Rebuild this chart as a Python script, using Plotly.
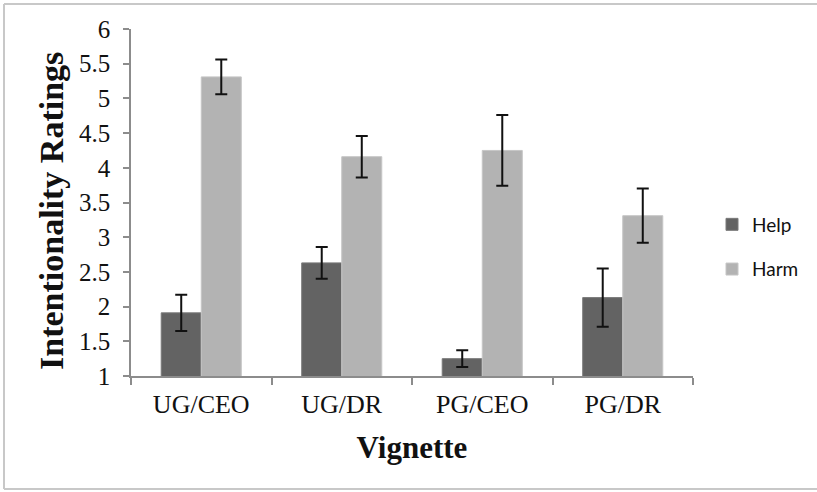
import plotly.graph_objects as go

categories = ["UG/CEO", "UG/DR", "PG/CEO", "PG/DR"]
help_vals = [1.91, 2.63, 1.25, 2.13]
help_err = [0.26, 0.23, 0.12, 0.42]
harm_vals = [5.31, 4.16, 4.25, 3.31]
harm_err = [0.25, 0.30, 0.51, 0.39]
y_ticks = [1, 1.5, 2, 2.5, 3, 3.5, 4, 4.5, 5, 5.5, 6]

W, H = 817, 492
L, R, T, B = 131, 124, 29, 116
pw, ph = W - L - R, H - T - B

def px(x):
    return (x - L) / pw

def py(y):
    return (H - B - y) / ph

err_style = dict(type="data", visible=True, color="#111111", thickness=2, width=6)

fig = go.Figure()
fig.add_trace(go.Bar(
    x=categories, y=help_vals, name="Help", legendgroup="a",
    marker=dict(color="#636363", line=dict(color="#7a7a7a", width=1)),
    error_y=dict(array=help_err, **err_style),
))
fig.add_trace(go.Bar(
    x=categories, y=harm_vals, name="Harm", legendgroup="b",
    marker=dict(color="#b3b3b3", line=dict(color="#c6c6c6", width=1)),
    error_y=dict(array=harm_err, **err_style),
))

axis_col = "#8c8c8c"
fig.update_layout(
    width=W, height=H,
    margin=dict(l=L, r=R, t=T, b=B, pad=0),
    paper_bgcolor="white", plot_bgcolor="white",
    barmode="group", bargap=0.43, bargroupgap=0,
    font=dict(family="Liberation Serif, Times New Roman, serif", color="#111111"),
    xaxis=dict(
        showline=True, linecolor=axis_col, linewidth=1.5,
        ticks="outside", tickson="boundaries", ticklen=7, tickcolor=axis_col, tickwidth=1.5,
        tickfont=dict(size=26, family="Liberation Serif"),
        ticklabelstandoff=4,
        showgrid=False,
        title=dict(text="<b>Vignette</b>", font=dict(size=31, family="Liberation Serif"), standoff=18),
    ),
    yaxis=dict(
        range=[1, 6], tickvals=y_ticks, ticktext=[f"{v:g}" for v in y_ticks],
        showline=True, linecolor=axis_col, linewidth=1.5,
        ticks="outside", ticklen=6, tickcolor=axis_col, tickwidth=1.5,
        tickfont=dict(size=25, family="Liberation Serif"),
        ticklabelstandoff=8,
        showgrid=False, zeroline=False,
    ),
    annotations=[
        dict(text="<b>Intentionality Ratings</b>", textangle=-90, xref="paper", yref="paper",
             x=px(51), y=py(211), xanchor="center", yanchor="middle", showarrow=False,
             font=dict(size=34, family="Liberation Serif", color="#111111")),
    ],
    legend=dict(
        x=px(712), y=py(247), xanchor="left", yanchor="middle",
        font=dict(size=19, family="Lato, Noto Sans, sans-serif", color="#111111"),
        traceorder="grouped", tracegroupgap=17, bgcolor="rgba(0,0,0,0)",
    ),
    showlegend=True,
    shapes=[
        dict(type="line", xref="paper", yref="paper", x0=px(4), x1=px(830), y0=py(4), y1=py(4),
             line=dict(color="#c8c8c8", width=2)),
        dict(type="line", xref="paper", yref="paper", x0=px(4), x1=px(830), y0=py(489), y1=py(489),
             line=dict(color="#c8c8c8", width=2)),
        dict(type="line", xref="paper", yref="paper", x0=px(4), x1=px(4), y0=py(4), y1=py(489),
             line=dict(color="#c8c8c8", width=2)),
    ],
)

fig.write_html("out.html")
